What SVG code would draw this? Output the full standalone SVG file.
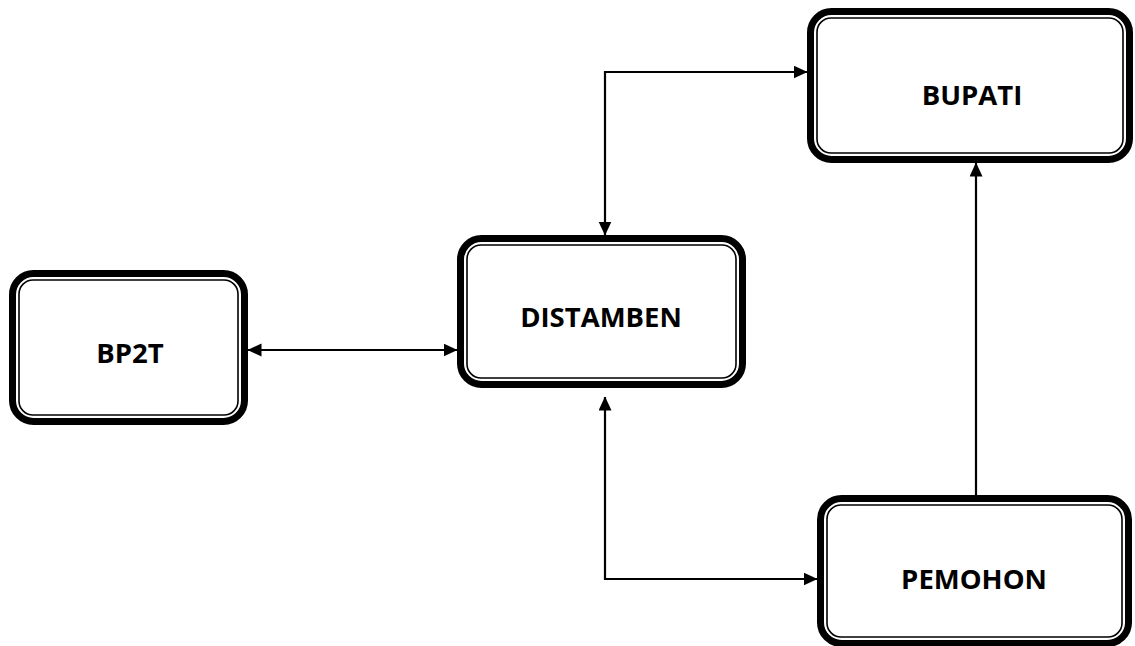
<svg xmlns="http://www.w3.org/2000/svg" width="1135" height="646" viewBox="0 0 1135 646">
  <style>
    .outer { fill: #ffffff; stroke: #000000; stroke-width: 7; }
    .inner { fill: none; stroke: #000000; stroke-width: 1.6; }
    .label { font-family: "Open Sans", "Liberation Sans", sans-serif; font-weight: 700; font-size: 27.5px; fill: #000000; text-anchor: middle; }
    .link { fill: none; stroke: #000000; stroke-width: 2.2; }
  </style>
  <defs>
    <marker id="arrow" markerUnits="userSpaceOnUse" markerWidth="14" markerHeight="14" refX="13.5" refY="6.5" orient="auto-start-reverse">
      <path d="M0,0 L14,6.5 L0,13 z" fill="#000000"/>
    </marker>
  </defs>
  <rect x="0" y="0" width="1135" height="646" fill="#ffffff"/>

  <!-- connectors -->
  <g id="connectors">
    <line class="link" x1="248" y1="350" x2="457" y2="350" marker-start="url(#arrow)" marker-end="url(#arrow)"/>
    <path class="link" d="M605,235 V72 H807" marker-start="url(#arrow)" marker-end="url(#arrow)"/>
    <path class="link" d="M605,397 V579 H817" marker-start="url(#arrow)" marker-end="url(#arrow)"/>
    <path class="link" d="M976,495 V163" marker-end="url(#arrow)"/>
  </g>

  <!-- nodes: thick outer border with a thin inner border -->
  <g id="node-bp2t">
    <rect class="outer" x="12.5" y="273.5" width="232" height="148" rx="21"/>
    <rect class="inner" x="19" y="280" width="219" height="135" rx="14"/>
    <text class="label" x="130" y="363">BP2T</text>
  </g>

  <g id="node-distamben">
    <rect class="outer" x="460.5" y="238.5" width="282" height="146" rx="21"/>
    <rect class="inner" x="467" y="245" width="269" height="133" rx="14"/>
    <text class="label" x="601" y="327">DISTAMBEN</text>
  </g>

  <g id="node-bupati">
    <rect class="outer" x="810.5" y="11.5" width="319" height="148" rx="21"/>
    <rect class="inner" x="817" y="18" width="306" height="135" rx="14"/>
    <text class="label" x="972" y="105">BUPATI</text>
  </g>

  <g id="node-pemohon">
    <rect class="outer" x="820.5" y="498.5" width="308" height="145" rx="21"/>
    <rect class="inner" x="827" y="505" width="295" height="132" rx="14"/>
    <text class="label" x="974" y="589">PEMOHON</text>
  </g>
</svg>
